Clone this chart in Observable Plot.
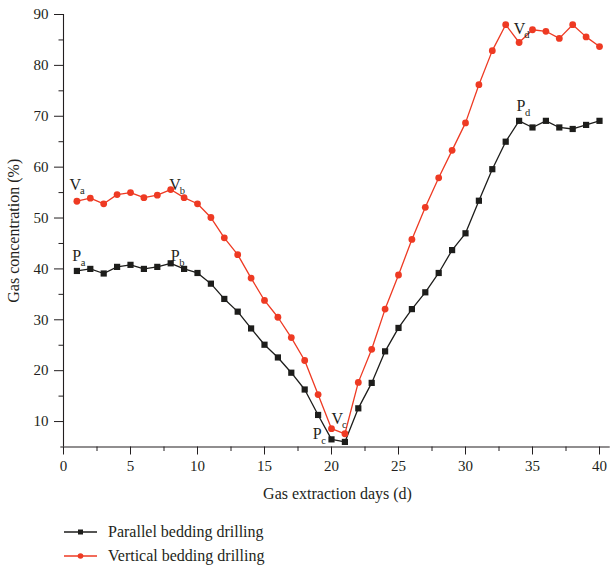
<!DOCTYPE html>
<html>
<head>
<meta charset="utf-8">
<script src="https://cdn.jsdelivr.net/npm/d3@7"></script>
<script src="https://cdn.jsdelivr.net/npm/@observablehq/plot@0.6"></script>
<style>
  html, body { margin: 0; padding: 0; background: #fff; }
  #wrap { position: relative; width: 610px; height: 565px; font-family: "Liberation Serif", "DejaVu Serif", serif; color: #231f20; }
  #legend { position: absolute; left: 0; top: 0; width: 610px; }
  .row { position: absolute; left: 64px; display: flex; align-items: center; font-size: 16px; }
  .row span { margin-left: 11px; }
</style>
</head>
<body>
<div id="wrap"><div id="chart"></div><div id="legend"></div></div>
<script>
const days = [1,2,3,4,5,6,7,8,9,10,11,12,13,14,15,16,17,18,19,20,21,22,23,24,25,26,27,28,29,30,31,32,33,34,35,36,37,38,39,40];
const parallel = [39.6, 40.0, 39.1, 40.4, 40.8, 40.0, 40.4, 41.1, 40.0, 39.2, 37.1, 34.1, 31.6, 28.3, 25.1, 22.6, 19.6, 16.3, 11.3, 6.5, 6.0, 12.6, 17.6, 23.8, 28.4, 32.1, 35.4, 39.2, 43.7, 47.0, 53.4, 59.6, 65.0, 69.1, 67.8, 69.1, 67.8, 67.5, 68.3, 69.1];
const vertical = [53.3, 53.9, 52.8, 54.6, 55.0, 54.0, 54.5, 55.6, 54.0, 52.8, 50.1, 46.1, 42.8, 38.2, 33.8, 30.5, 26.5, 22.0, 15.3, 8.6, 7.6, 17.7, 24.2, 32.1, 38.8, 45.8, 52.1, 57.9, 63.3, 68.7, 76.2, 82.9, 88.0, 84.5, 87.0, 86.7, 85.3, 88.0, 85.6, 83.7];
const seriesNames = ["Parallel bedding drilling", "Vertical bedding drilling"];
const seriesColors = ["#1d1d1b", "#ee3a23"];
const xTicks = [0, 5, 10, 15, 20, 25, 30, 35, 40];
const xMinorTicks = [2.5, 7.5, 12.5, 17.5, 22.5, 27.5, 32.5, 37.5];
const yTicks = [10, 20, 30, 40, 50, 60, 70, 80, 90];
const yMinorTicks = [15, 25, 35, 45, 55, 65, 75, 85];
const xLabel = "Gas extraction days (d)";
const yLabel = "Gas concentration (%)";
// point annotations: letter, subscript, anchor (day, value)
const pointLabels = [
  {main: "V", sub: "a", day: 0.45, value: 55.6},
  {main: "V", sub: "b", day: 7.9, value: 55.6},
  {main: "V", sub: "c", day: 20.0, value: 9.6},
  {main: "V", sub: "d", day: 33.6, value: 86.1},
  {main: "P", sub: "a", day: 0.65, value: 41.6},
  {main: "P", sub: "b", day: 8.0, value: 41.6},
  {main: "P", sub: "c", day: 18.6, value: 6.5},
  {main: "P", sub: "d", day: 33.8, value: 71.0}
];

const pData = days.map((d, i) => ({day: d, value: parallel[i]}));
const vData = days.map((d, i) => ({day: d, value: vertical[i]}));
const font = "Liberation Serif";
const ink = "#231f20";

const vLabels = pointLabels.filter(d => d.main === "V");
const pLabels = pointLabels.filter(d => d.main === "P");

const chart = Plot.plot({
  width: 610,
  height: 505,
  marginLeft: 63,
  marginRight: 11,
  marginTop: 14,
  marginBottom: 58.5,
  style: {fontFamily: font, fontSize: "15px", color: ink, background: "white"},
  x: {domain: [0, 40]},
  y: {domain: [5, 90]},
  marks: [
    Plot.axisX({ticks: xTicks, tickSize: 8, tickPadding: 5, label: null, fontSize: 15, tickFormat: d => d}),
    Plot.axisX({ticks: xMinorTicks, tickSize: 4.5, text: null, label: null}),
    Plot.axisY({ticks: yTicks, tickSize: 9, tickPadding: 6, fontSize: 15, tickFormat: d => d,
      label: yLabel, labelAnchor: "center", labelArrow: "none", labelOffset: 56}),
    Plot.axisY({ticks: yMinorTicks, tickSize: 4.5, text: null, label: null}),
    Plot.ruleY([5], {x1: -0.2, x2: 40.8, stroke: ink, strokeWidth: 1.1}),
    Plot.ruleX([0], {y1: 5, y2: 90, stroke: ink, strokeWidth: 1.1}),
    Plot.text([xLabel], {frameAnchor: "bottom", lineAnchor: "middle", textAnchor: "middle", dy: 46.5, dx: 6, fontSize: 16, fill: ink}),
    Plot.line(pData, {x: "day", y: "value", stroke: seriesColors[0], strokeWidth: 1.3}),
    Plot.dot(pData, {x: "day", y: "value", symbol: "square", r: 3.5, fill: seriesColors[0], stroke: "none"}),
    Plot.line(vData, {x: "day", y: "value", stroke: seriesColors[1], strokeWidth: 1.3}),
    Plot.dot(vData, {x: "day", y: "value", symbol: "circle", r: 3.4, fill: seriesColors[1], stroke: "none"}),
    Plot.text(pointLabels, {x: "day", y: "value", text: "main", textAnchor: "start", lineAnchor: "bottom", fontSize: 16, fill: ink}),
    Plot.text(vLabels, {x: "day", y: "value", text: "sub", textAnchor: "start", lineAnchor: "bottom", fontSize: 10.5, dx: 10.5, dy: 4, fill: ink}),
    Plot.text(pLabels, {x: "day", y: "value", text: "sub", textAnchor: "start", lineAnchor: "bottom", fontSize: 10.5, dx: 8.5, dy: 5, fill: ink})
  ]
});
// label font size for y axis title
chart.querySelectorAll("g[aria-label='y-axis label'] text").forEach(t => t.setAttribute("font-size", "16"));
document.getElementById("chart").appendChild(chart);

// legend below the svg
const legend = document.getElementById("legend");
const rowTops = [522, 546];
seriesNames.forEach((name, i) => {
  const row = document.createElement("div");
  row.className = "row";
  row.style.top = rowTops[i] + "px";
  const sw = i === 0
    ? `<svg width="33" height="20"><line x1="0" y1="10" x2="33" y2="10" stroke="${seriesColors[i]}" stroke-width="1.4"/><rect x="14" y="7.5" width="5" height="5" fill="${seriesColors[i]}"/></svg>`
    : `<svg width="33" height="20"><line x1="0" y1="10" x2="33" y2="10" stroke="${seriesColors[i]}" stroke-width="1.4"/><circle cx="16.5" cy="10" r="2.8" fill="${seriesColors[i]}"/></svg>`;
  row.innerHTML = sw + `<span>${name}</span>`;
  legend.appendChild(row);
});
</script>
</body>
</html>
